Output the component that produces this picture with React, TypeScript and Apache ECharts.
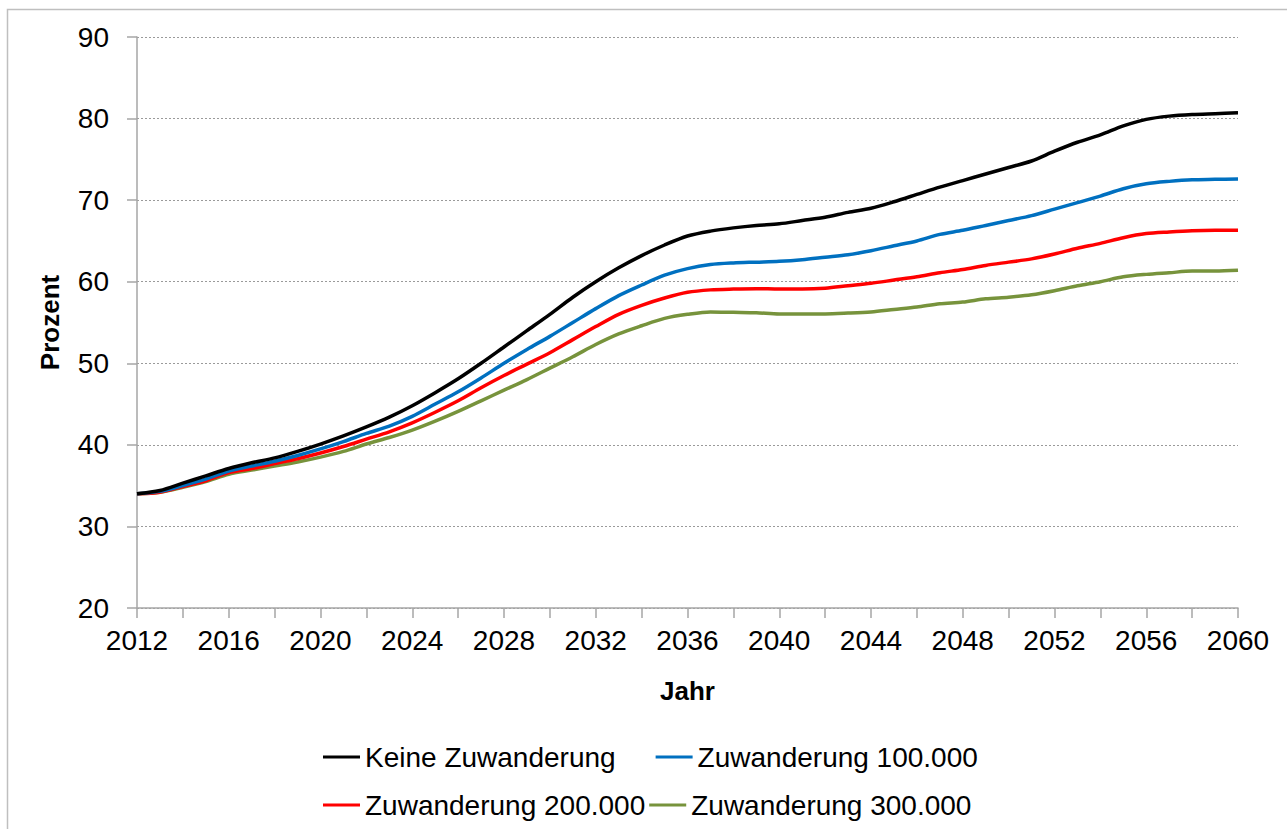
import React, { useEffect, useRef } from "react";
import * as echarts from "echarts";

const years: string[] = [];
for (let y = 2012; y <= 2060; y++) years.push(String(y));

const keineZuwanderung = [
  34.0, 34.4, 35.3, 36.2, 37.1, 37.8, 38.4, 39.2, 40.1, 41.1,
  42.2, 43.4, 44.8, 46.4, 48.1, 50.0, 52.0, 54.0, 56.0, 58.1,
  60.0, 61.7, 63.2, 64.5, 65.6, 66.2, 66.6, 66.9, 67.1, 67.5,
  67.9, 68.5, 69.0, 69.8, 70.7, 71.6, 72.4, 73.2, 74.0, 74.8,
  76.0, 77.1, 78.0, 79.1, 79.9, 80.3, 80.5, 80.6, 80.7,
];
const zuwanderung100 = [
  34.0, 34.3, 35.0, 35.8, 36.8, 37.4, 38.0, 38.7, 39.5, 40.4,
  41.4, 42.3, 43.5, 45.0, 46.5, 48.2, 50.0, 51.7, 53.3, 55.0,
  56.7, 58.3, 59.6, 60.8, 61.6, 62.1, 62.3, 62.4, 62.5, 62.7,
  63.0, 63.3, 63.8, 64.4, 65.0, 65.8, 66.3, 66.9, 67.5, 68.1,
  68.9, 69.7, 70.5, 71.4, 72.0, 72.3, 72.5, 72.55, 72.6,
];
const zuwanderung200 = [
  34.0, 34.2, 34.9, 35.6, 36.6, 37.1, 37.7, 38.3, 39.0, 39.8,
  40.7, 41.6, 42.7, 44.0, 45.4, 47.0, 48.5, 49.9, 51.3, 52.9,
  54.5, 56.0, 57.1, 58.0, 58.7, 59.0, 59.1, 59.15, 59.1, 59.1,
  59.2, 59.5, 59.8, 60.2, 60.6, 61.1, 61.5, 62.0, 62.4, 62.8,
  63.4, 64.1, 64.7, 65.4, 65.9, 66.1, 66.25, 66.3, 66.3,
];
const zuwanderung300 = [
  34.0, 34.2, 34.8, 35.5, 36.4, 36.9, 37.4, 37.9, 38.5, 39.2,
  40.1, 40.9, 41.8, 42.9, 44.1, 45.4, 46.7, 48.0, 49.4, 50.8,
  52.3, 53.6, 54.6, 55.5, 56.0, 56.3, 56.25, 56.2, 56.05, 56.05,
  56.05, 56.15, 56.3, 56.6, 56.9, 57.3, 57.5, 57.9, 58.1, 58.4,
  58.9, 59.5, 60.0, 60.6, 60.9, 61.1, 61.3, 61.3, 61.4,
];

const seriesNames = [
  "Keine Zuwanderung",
  "Zuwanderung 100.000",
  "Zuwanderung 200.000",
  "Zuwanderung 300.000",
];
const seriesColors = ["#000000", "#0070C0", "#FF0000", "#77933C"];
const seriesData = [keineZuwanderung, zuwanderung100, zuwanderung200, zuwanderung300];

const FONT = "Liberation Sans";

export default function App() {
  const ref = useRef<HTMLDivElement>(null);
  useEffect(() => {
    document.body.style.margin = "0";
    const chart = echarts.init(ref.current!, undefined, { renderer: "svg" });
    const legendText = { fontFamily: FONT, fontSize: 28, color: "#000" };
    chart.setOption({
      animation: false,
      backgroundColor: "#fff",
      graphic: [
        {
          type: "rect",
          shape: { x: 7.5, y: 9.5, width: 1400, height: 900 },
          style: { fill: "none", stroke: "#bfbfbf", lineWidth: 1.5 },
          silent: true,
        },
      ],
      grid: { left: 137, top: 37, right: 49, bottom: 221, containLabel: false },
      legend: [
        {
          data: [seriesNames[0], seriesNames[1]],
          left: 318,
          top: 738,
          itemWidth: 37,
          itemHeight: 3,
          itemGap: 40,
          icon: "rect",
          textStyle: legendText,
          selectedMode: false,
        },
        {
          data: [seriesNames[2], seriesNames[3]],
          left: 318,
          top: 786,
          itemWidth: 37,
          itemHeight: 3,
          itemGap: 4,
          icon: "rect",
          textStyle: legendText,
          selectedMode: false,
        },
      ],
      xAxis: {
        type: "category",
        data: years,
        boundaryGap: false,
        name: "Jahr",
        nameLocation: "middle",
        nameGap: 70,
        nameTextStyle: { fontFamily: FONT, fontSize: 26, fontWeight: "bold", color: "#000" },
        axisLine: { lineStyle: { color: "#a6a6a6", width: 1.5 } },
        axisTick: { interval: 1, length: 10, lineStyle: { color: "#a6a6a6", width: 1.5 } },
        axisLabel: { interval: 3, margin: 18, fontFamily: FONT, fontSize: 28, color: "#000" },
        splitLine: { show: false },
      },
      yAxis: {
        type: "value",
        min: 20,
        max: 90,
        interval: 10,
        name: "Prozent",
        nameLocation: "middle",
        nameGap: 74,
        nameTextStyle: { fontFamily: FONT, fontSize: 26, fontWeight: "bold", color: "#000" },
        axisLine: { show: true, lineStyle: { color: "#a6a6a6", width: 1.5 } },
        axisTick: { show: true, length: 10, lineStyle: { color: "#a6a6a6", width: 1.5 } },
        axisLabel: { margin: 28, fontFamily: FONT, fontSize: 28, color: "#000" },
        splitLine: { show: true, lineStyle: { color: "#9a9a9a", width: 1, type: [2, 2] } },
      },
      series: seriesNames.map((name, i) => ({
        name,
        type: "line",
        data: seriesData[i],
        symbol: "none",
        smooth: 0.3,
        color: seriesColors[i],
        lineStyle: { color: seriesColors[i], width: 3.5 },
        z: 10 - i,
      })),
    });
    return () => chart.dispose();
  }, []);
  return <div ref={ref} style={{ width: 1287, height: 829 }} />;
}
